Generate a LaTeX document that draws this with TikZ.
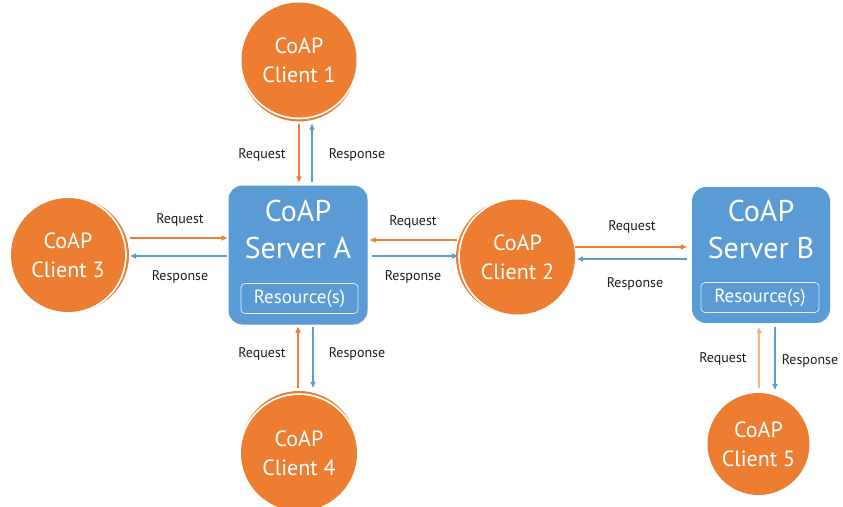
\documentclass[tikz,border=0pt]{standalone}
\usepackage{fontspec}
\setmainfont{PT Sans}
\usetikzlibrary{arrows.meta,backgrounds}
\definecolor{coapOrange}{HTML}{ED7D31}
\definecolor{coapBlue}{HTML}{5B9BD5}
\definecolor{coapText}{HTML}{1E1E1E}

\begin{document}
\begin{tikzpicture}[x=1pt,y=-1pt,
  client/.style={circle, fill=coapOrange, inner sep=0pt, minimum size=#1,
    text=white, align=center, font=\fontsize{22}{29}\selectfont},
  client/.default=115pt,
  server/.style={rectangle, rounded corners=14pt, fill=coapBlue,
    minimum width=139pt, minimum height=139pt, inner sep=0pt},
  srvtitle/.style={text=white, align=center, font=\fontsize{30}{37}\selectfont},
  resbox/.style={rectangle, rounded corners=4pt, draw=white!85!coapBlue,
    line width=0.7pt, minimum width=117pt, minimum height=30pt,
    text=white, font=\fontsize{19}{22}\selectfont},
  tip/.style={-{Triangle[length=6pt,width=5pt]}},
  req/.style={tip, draw=coapOrange, line width=1.4pt},
  reqlight/.style={tip, draw=coapOrange!60, line width=1.4pt},
  resp/.style={tip, draw=coapBlue, line width=1.4pt},
  lbl/.style={text=coapText, font=\fontsize{14}{16}\selectfont, inner sep=0pt},
]
\clip (0,0) rectangle (843,506);
\useasboundingbox (0,0) rectangle (843,506);

% servers
\node[server] (A) at (298,255) {};
\node[srvtitle] (Atitle) at (298,229) {CoAP\\Server A};
\node[resbox] (Ares) at (299.5,298.5) {Resource(s)};

\node[server, minimum width=138pt, minimum height=136pt] (B) at (761,255) {};
\node[srvtitle] (Btitle) at (761,229) {CoAP\\Server B};
\node[resbox, minimum width=118pt] (Bres) at (760,297.5) {Resource(s)};

% clients
\node[client] (c1) at (299,60) {CoAP\\Client 1};
\node[client, minimum size=114pt] (c3) at (68,255) {CoAP\\Client 3};
\node[client] (c2) at (517.5,257) {CoAP\\Client 2};
\node[client, minimum size=116pt] (c4) at (299,453) {CoAP\\Client 4};
\node[client, minimum size=102pt] (c5) at (758.5,444) {CoAP\\Client 5};

% thin tapered arcs on the server-facing side of clients 1-4:
% an offset copy of the disc, separated from the client by a white ring
\begin{scope}[on background layer]
  \fill[white] (0,0) rectangle (843,506);
  \fill[coapOrange] ([yshift=-4pt]c1.center) circle (57.5pt);
  \fill[coapOrange] ([yshift=4pt]c4.center) circle (58pt);
  \fill[coapOrange] ([xshift=4pt]c3.center) circle (57pt);
  \fill[coapOrange] ([xshift=-4pt]c2.center) circle (57.5pt);
  \fill[white] (c1.center) circle (59.3pt);
  \fill[white] (c4.center) circle (59.8pt);
  \fill[white] (c3.center) circle (58.8pt);
  \fill[white] (c2.center) circle (59.3pt);
\end{scope}

% client 1 <-> server A
\draw[req]  ([yshift=-6pt]c1.south) -- ([xshift=1pt,yshift=3pt]A.north);
\draw[resp] ([xshift=14pt,yshift=3pt]A.north) -- ([xshift=13pt,yshift=-6pt]c1.south);
\node[lbl] (l1q) at (262,155) {Request};
\node[lbl] (l1r) at (357,155) {Response};

% client 3 <-> server A
\draw[req]  ([xshift=5pt,yshift=17pt]c3.east) -- ([xshift=-1pt,yshift=17pt]A.west);
\draw[resp] ([xshift=-1pt,yshift=-1pt]A.west) -- ([xshift=5pt,yshift=-1pt]c3.east);
\node[lbl] (l3q) at (180,220) {Request};
\node[lbl] (l3r) at (180,277) {Response};

% client 2 <-> server A
\draw[req]  ([xshift=-3pt,yshift=17pt]c2.west) -- ([xshift=2pt,yshift=15pt]A.east);
\draw[resp] ([xshift=4pt,yshift=-1pt]A.east) -- ([xshift=-2pt,yshift=1pt]c2.west);
\node[lbl] (l2q) at (413,222) {Request};
\node[lbl] (l2r) at (413,277) {Response};

% client 2 <-> server B
\draw[req]  ([yshift=10pt]c2.east) -- ([xshift=-5pt,yshift=8pt]B.west);
\draw[resp] ([xshift=-5pt,yshift=-4pt]B.west) -- ([xshift=2pt,yshift=-2pt]c2.east);
\node[lbl] (l2bq) at (632,227) {Request};
\node[lbl] (l2br) at (635,284) {Response};

% client 4 <-> server A
\draw[req]  ([xshift=-1pt,yshift=7pt]c4.north) -- ([yshift=-2pt]A.south);
\draw[resp] ([xshift=15pt,yshift=-2pt]A.south) -- ([xshift=14pt,yshift=7pt]c4.north);
\node[lbl] (l4q) at (262,354) {Request};
\node[lbl] (l4r) at (357,354) {Response};

% client 5 <-> server B
\draw[reqlight] ([xshift=0.5pt,yshift=5pt]c5.north) -- ([xshift=-2pt,yshift=-4pt]B.south);
\draw[resp] ([xshift=14pt,yshift=-4pt]B.south) -- ([xshift=16.5pt,yshift=3pt]c5.north);
\node[lbl] (l5q) at (723,359) {Request};
\node[lbl] (l5r) at (810,361) {Response};
\end{tikzpicture}
\end{document}
